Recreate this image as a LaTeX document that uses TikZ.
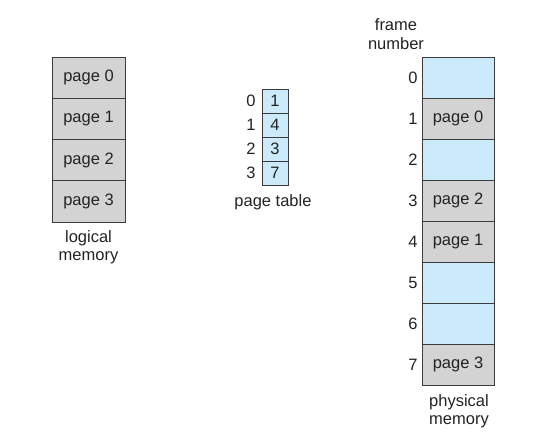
\documentclass[tikz,border=0pt]{standalone}
\usepackage{fontspec}
\setmainfont{Liberation Sans}
\definecolor{cellgray}{RGB}{211,211,211}
\definecolor{cellblue}{RGB}{204,235,250}
\definecolor{edge}{RGB}{60,60,60}
\definecolor{txt}{RGB}{35,35,35}
\begin{document}
\begin{tikzpicture}[x=1pt,y=-1pt,
  every node/.style={font=\fontsize{16.5}{18.5}\selectfont, text=txt},
  lcell/.style={draw=edge, line width=0.9pt, fill=cellgray, minimum width=73pt, minimum height=41.25pt, inner sep=0pt},
  pcell/.style={draw=edge, line width=0.9pt, minimum width=72pt, minimum height=41pt, inner sep=0pt},
  tcell/.style={draw=edge, line width=0.9pt, fill=cellblue, minimum width=26pt, minimum height=24pt, inner sep=0pt},
  lbl/.style={align=center, inner sep=0pt}]
\useasboundingbox (0,0) rectangle (557,447);
% logical memory
\node[lcell] (l0) at (88.5,77.6) {page 0};
\node[lcell] (l1) at (88.5,118.9) {page 1};
\node[lcell] (l2) at (88.5,160.1) {page 2};
\node[lcell] (l3) at (88.5,201.4) {page 3};
\node[lbl] (lm) at (88.5,247) {logical\\memory};
% page table
\node[tcell] (t0) at (275,101) {1};
\node[tcell] (t1) at (275,125) {4};
\node[tcell] (t2) at (275,149) {3};
\node[tcell] (t3) at (275,173) {7};
\node (i0) at (251,101) {0};
\node (i1) at (251,125) {1};
\node (i2) at (251,149) {2};
\node (i3) at (251,173) {3};
\node (pt) at (273,202) {page table};
% physical memory
\node[pcell, fill=cellblue] (p0) at (458,77.5) {};
\node[pcell, fill=cellgray] (p1) at (458,118.5) {page 0};
\node[pcell, fill=cellblue] (p2) at (458,159.5) {};
\node[pcell, fill=cellgray] (p3) at (458,200.5) {page 2};
\node[pcell, fill=cellgray] (p4) at (458,241.5) {page 1};
\node[pcell, fill=cellblue] (p5) at (458,282.5) {};
\node[pcell, fill=cellblue] (p6) at (458,323.5) {};
\node[pcell, fill=cellgray] (p7) at (458,364.5) {page 3};
\foreach \i/\y in {0/77.5,1/118.5,2/159.5,3/200.5,4/241.5,5/282.5,6/323.5,7/364.5}
  \node (f\i) at (413,\y) {\i};
\node[lbl] (fn) at (396,34) {frame\\number};
\node[lbl] (pm) at (459,411) {physical\\memory};
\end{tikzpicture}
\end{document}
